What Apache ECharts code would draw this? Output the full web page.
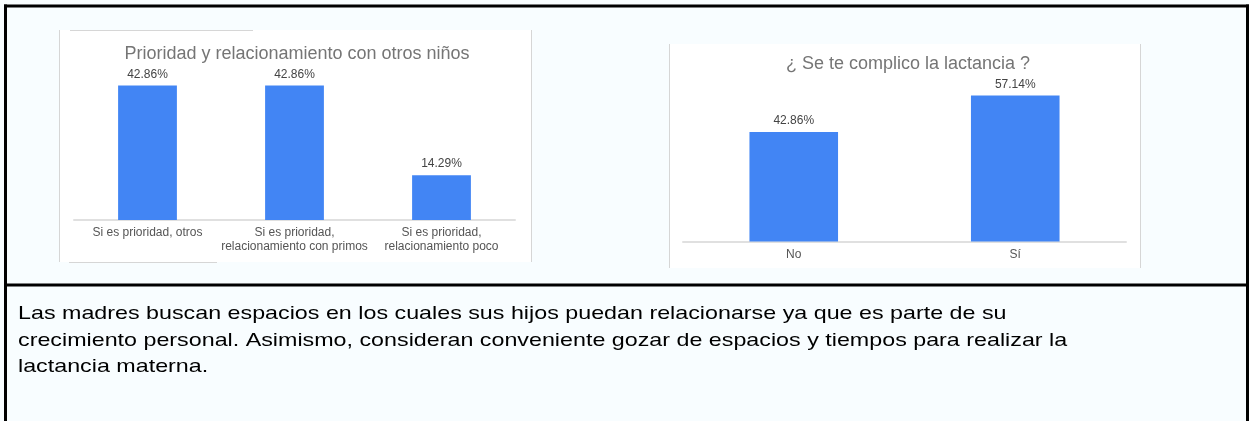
<!DOCTYPE html>
<html>
<head>
<meta charset="utf-8">
<script src="https://cdn.jsdelivr.net/npm/echarts@6/dist/echarts.min.js"></script>
<style>
  html, body { margin: 0; padding: 0; background: #f8fdff; }
  #main { width: 1249px; height: 421px; }
</style>
</head>
<body>
<div id="main"></div>
<script>
const title1 = 'Prioridad y relacionamiento con otros niños';
const categories1 = ['Si es prioridad, otros', 'Si es prioridad, relacionamiento con primos', 'Si es prioridad, relacionamiento poco'];
const values1 = [42.86, 42.86, 14.29];

const title2 = '¿ Se te complico la lactancia ?';
const categories2 = ['No', 'Sí'];
const values2 = [42.86, 57.14];

const paragraphLines = [
  'Las madres buscan espacios en los cuales sus hijos puedan relacionarse ya que es parte de su',
  'crecimiento personal. Asimismo, consideran conveniente gozar de espacios y tiempos para realizar la',
  'lactancia materna.'
];

const FONT = '"Liberation Sans", Arial, sans-serif';
const BLUE = '#4285f4';
const FRAME = '#d6d6d6';

const chart = echarts.init(document.getElementById('main'), null, { renderer: 'canvas' });

function line(x1, y1, x2, y2, color, width) {
  return { type: 'line', shape: { x1, y1, x2, y2 }, style: { stroke: color, lineWidth: width }, silent: true };
}

const labelStyle = {
  show: true, position: 'top', distance: 5,
  formatter: p => p.value.toFixed(2) + '%',
  fontFamily: FONT, fontSize: 12, color: '#444'
};

chart.setOption({
  backgroundColor: '#f8fdff',
  animation: false,
  title: [
    { text: title1, left: 292, top: 40, textAlign: 'center',
      textStyle: { fontFamily: FONT, fontSize: 18, fontWeight: 'normal', color: '#757575' } },
    { text: title2, left: 903, top: 50, textAlign: 'center',
      textStyle: { fontFamily: FONT, fontSize: 18, fontWeight: 'normal', color: '#757575' } }
  ],
  graphic: [
    { type: 'rect', z: -10, shape: { x: 59, y: 30, width: 472, height: 232 }, style: { fill: '#ffffff' }, silent: true },
    { type: 'rect', z: -10, shape: { x: 669, y: 44, width: 471, height: 224 }, style: { fill: '#ffffff' }, silent: true },
    line(59.5, 30, 59.5, 262, FRAME, 1),
    line(531.5, 30, 531.5, 262, FRAME, 1),
    line(70, 30.5, 253, 30.5, FRAME, 1),
    line(69, 262.5, 217, 262.5, FRAME, 1),
    line(669.5, 44, 669.5, 268, FRAME, 1),
    line(1140.5, 44, 1140.5, 268, FRAME, 1),
    line(4, 6, 1249, 6, '#000', 3),
    line(5.5, 4.5, 5.5, 421, '#000', 3),
    line(1247.5, 4.5, 1247.5, 421, '#000', 3),
    line(4, 285, 1249, 285, '#000', 3),
    { type: 'text', x: 18, y: 301, scaleX: 1.225, silent: true,
      style: { text: paragraphLines.join('\n'), font: '19px ' + FONT, fill: '#000', lineHeight: 26.5 } }
  ],
  grid: [
    { left: 74, width: 441, top: 63.1, height: 156.9 },
    { left: 683, width: 443, top: 88.2, height: 153.3 }
  ],
  xAxis: [
    { type: 'category', gridIndex: 0, data: categories1,
      axisLine: { lineStyle: { color: '#e0e0e0', width: 2 } }, axisTick: { show: false },
      axisLabel: { interval: 0, margin: 6, fontFamily: FONT, fontSize: 12, color: '#555', lineHeight: 14,
        formatter: v => v.replace(', r', ',\nr') } },
    { type: 'category', gridIndex: 1, data: categories2,
      axisLine: { lineStyle: { color: '#e0e0e0', width: 2 } }, axisTick: { show: false },
      axisLabel: { interval: 0, margin: 6.5, fontFamily: FONT, fontSize: 12, color: '#555', lineHeight: 14 } }
  ],
  yAxis: [
    { type: 'value', gridIndex: 0, min: 0, max: 50, show: false, splitLine: { show: false } },
    { type: 'value', gridIndex: 1, min: 0, max: 60, show: false, splitLine: { show: false } }
  ],
  series: [
    { type: 'bar', xAxisIndex: 0, yAxisIndex: 0, data: values1, barWidth: '40%',
      itemStyle: { color: BLUE }, label: labelStyle },
    { type: 'bar', xAxisIndex: 1, yAxisIndex: 1, data: values2, barWidth: '40%',
      itemStyle: { color: BLUE }, label: labelStyle }
  ]
});
</script>
</body>
</html>
